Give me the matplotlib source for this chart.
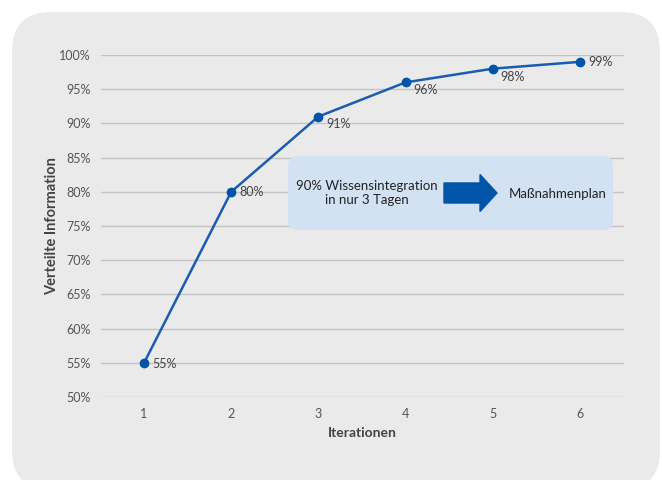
import matplotlib.pyplot as plt
from matplotlib.patches import FancyBboxPatch, FancyArrow

plt.rcParams['font.family'] = ['Lato', 'DejaVu Sans']

# Daten
iterationen = [1, 2, 3, 4, 5, 6]
verteilt = [55, 80, 91, 96, 98, 99]
y_ticks = [50, 55, 60, 65, 70, 75, 80, 85, 90, 95, 100]
# Versatz der Beschriftungen (Pixel)
label_offsets = [(8, -1), (8, 0), (8, -7), (8, -8), (8, -8), (8, 0)]

W, H = 662, 480
fig = plt.figure(figsize=(W / 100, H / 100), dpi=100)
fig.patch.set_facecolor('white')

# abgerundeter grauer Hintergrund
panel = FancyBboxPatch((12 / W, -10 / H), 648 / W, 478 / H,
                       boxstyle='round,pad=0,rounding_size=0.06',
                       transform=fig.transFigure, facecolor='#EAEAEA',
                       edgecolor='none', mutation_aspect=W / H, zorder=-1)
fig.patches.append(panel)

ax = fig.add_axes([100.5 / W, 1 - 397 / H, 523 / W, 342 / H])
ax.set_facecolor('none')

ax.plot(iterationen, verteilt, color='#1A5CAE', lw=1.8, marker='o',
        markersize=6, markerfacecolor='#0055A8', markeredgecolor='#0055A8',
        zorder=3)
for x, y, (dx, dy) in zip(iterationen, verteilt, label_offsets):
    ax.annotate(f'{y}%', (x, y), xytext=(dx, dy), textcoords='offset pixels',
                ha='left', va='center', fontsize=9, color='#444444')

ax.set_xlim(0.5, 6.5)
ax.set_ylim(50, 100)
ax.set_yticks(y_ticks)
ax.set_yticklabels([f'{t}%' for t in y_ticks])
ax.set_xticks(iterationen)
ax.grid(axis='y', color='#C4C4C4', lw=1)
ax.set_axisbelow(True)
for s in ax.spines.values():
    s.set_visible(False)
ax.tick_params(length=0, labelsize=9, labelcolor='#555555', pad=8)
ax.tick_params(axis='y', pad=7)
ax.set_xlabel('Iterationen', fontsize=10, fontweight='bold', color='#444444',
              labelpad=5)
ax.set_ylabel('Verteilte Information', fontsize=10.5, fontweight='bold',
              color='#444444', labelpad=0)

# Hinweisbox
box = FancyBboxPatch((288 / W, 1 - 230 / H), 325 / W, 74 / H,
                     boxstyle='round,pad=0,rounding_size=0.015',
                     transform=fig.transFigure, facecolor='#D3E2F2',
                     edgecolor='none', mutation_aspect=W / H, zorder=1)
fig.patches.append(box)
fig.text(367 / W, 1 - 193 / H, '90% Wissensintegration\nin nur 3 Tagen',
         ha='center', va='center', fontsize=9.5, color='#222222',
         linespacing=1.2, zorder=3)
arrow = FancyArrow(444 / W, 1 - 193 / H, 53 / W, 0, width=20 / H,
                   head_width=37 / H, head_length=17 / W,
                   length_includes_head=True, transform=fig.transFigure,
                   color='#0055A8', zorder=2)
fig.patches.append(arrow)
fig.text(558 / W, 1 - 194 / H, 'Maßnahmenplan', ha='center', va='center',
         fontsize=9.5, color='#222222', zorder=3)

fig.savefig('out.png', dpi=100)
